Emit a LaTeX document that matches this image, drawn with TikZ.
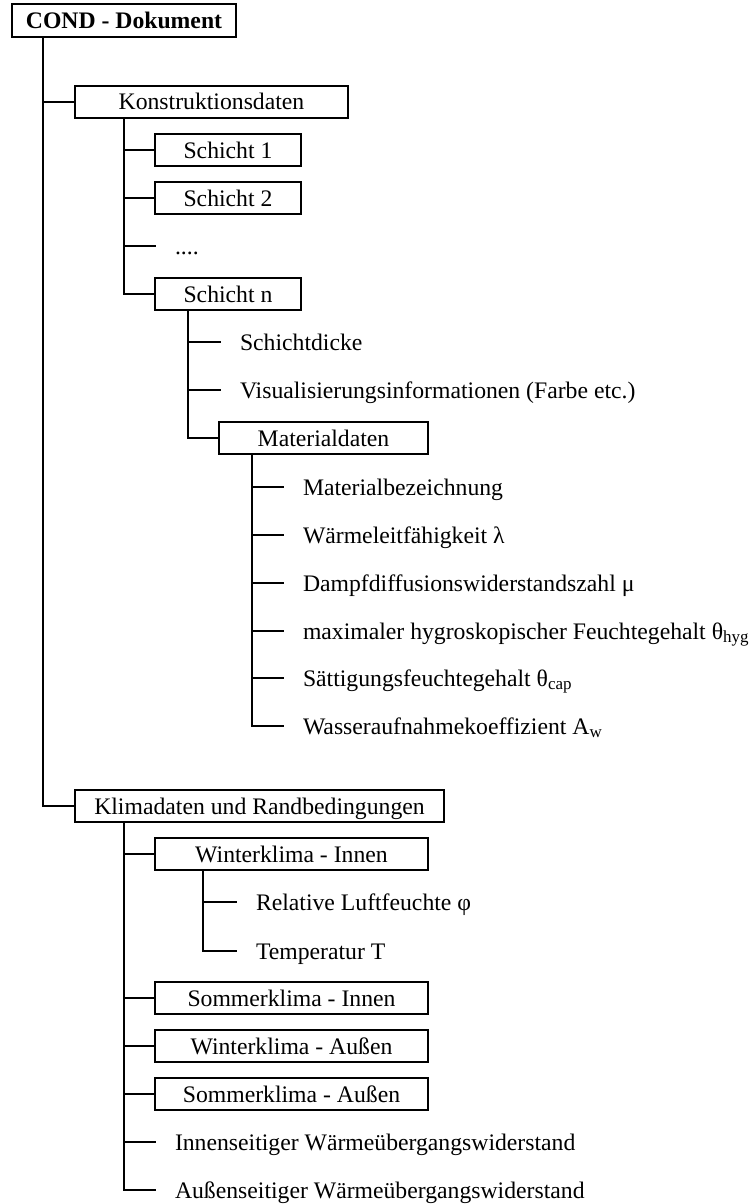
\documentclass[tikz,border=0pt]{standalone}
\usepackage{fontspec}
\setmainfont{Liberation Serif}
\usetikzlibrary{positioning}

\newcommand{\tiefst}[1]{\raisebox{-0.35ex}{\fontsize{8.5pt}{10pt}\selectfont #1}}

\tikzset{
  tree/.style={line width=1pt},
  ebox/.style={draw, line width=1pt, anchor=west, inner sep=0pt, outer sep=0pt,
    minimum height=16pt, text height=0.8em, text depth=0pt},
  leaf/.style={anchor=west, inner xsep=9.5pt, inner ysep=0pt, outer sep=0pt,
    text height=0.8em, text depth=0pt}
}

\begin{document}
\begin{tikzpicture}[x=0.5pt,y=-0.5pt,every node/.style={font=\fontsize{11.85pt}{14pt}\selectfont}]
\useasboundingbox (0,0) rectangle (754,1204);

% Wurzel
\node[ebox,minimum width=112pt,minimum height=16.5pt,font=\fontsize{11.85pt}{14pt}\selectfont\bfseries] (cond) at (12,21) {COND - Dokument};

% Konstruktionsdaten
\node[ebox,minimum width=136.5pt] (konst) at (75,102) {Konstruktionsdaten};
\node[ebox,minimum width=73pt] (s1) at (155,150) {Schicht 1};
\node[ebox,minimum width=73pt] (s2) at (155,198) {Schicht 2};
\node[leaf] (dots) at (156,246) {....};
\node[ebox,minimum width=73pt] (sn) at (155,294) {Schicht n};
\node[leaf] (dicke) at (221,342) {Schichtdicke};
\node[leaf] (visual) at (221,390) {Visualisierungsinformationen (Farbe etc.)};
\node[ebox,minimum width=104.5pt] (mat) at (219,438) {Materialdaten};
\node[leaf] (mbez) at (284,487) {Materialbezeichnung};
\node[leaf] (lambda) at (284,535) {Wärmeleitfähigkeit λ};
\node[leaf] (mu) at (284,583) {Dampfdiffusionswiderstandszahl μ};
\node[leaf] (hyg) at (284,631) {maximaler hygroskopischer Feuchtegehalt θ\tiefst{hyg}};
\node[leaf] (cap) at (284,678) {Sättigungsfeuchtegehalt θ\tiefst{cap}};
\node[leaf] (aw) at (284,726) {Wasseraufnahmekoeffizient A\tiefst{w}};

% Klimadaten
\node[ebox,minimum width=184.5pt] (klima) at (75,806) {Klimadaten und Randbedingungen};
\node[ebox,minimum width=136.5pt] (wi) at (155,854) {Winterklima - Innen};
\node[leaf] (phi) at (237,902) {Relative Luftfeuchte φ};
\node[leaf] (temp) at (237,951) {Temperatur T};
\node[ebox,minimum width=136.5pt] (si) at (155,998) {Sommerklima - Innen};
\node[ebox,minimum width=136.5pt] (wa) at (155,1046) {Winterklima - Außen};
\node[ebox,minimum width=136.5pt] (sa) at (155,1094) {Sommerklima - Außen};
\node[leaf] (rsi) at (156,1142) {Innenseitiger Wärmeübergangswiderstand};
\node[leaf] (rse) at (156,1190) {Außenseitiger Wärmeübergangswiderstand};

% Stämme
\coordinate (tc) at ([xshift=15.5pt]cond.south west);
\coordinate (tk) at ([xshift=24.5pt]konst.south west);
\coordinate (tn) at ([xshift=16.5pt]sn.south west);
\coordinate (tm) at ([xshift=16.5pt]mat.south west);
\coordinate (tr) at ([xshift=24.5pt]klima.south west);
\coordinate (tw) at ([xshift=24pt]wi.south west);

% Verbindungen
\foreach \c in {konst,klima} \draw[tree] (tc) |- (\c.west);
\foreach \c in {s1,s2,dots,sn} \draw[tree] (tk) |- (\c.west);
\foreach \c in {dicke,visual,mat} \draw[tree] (tn) |- (\c.west);
\foreach \c in {mbez,lambda,mu,hyg,cap,aw} \draw[tree] (tm) |- (\c.west);
\foreach \c in {wi,si,wa,sa,rsi,rse} \draw[tree] (tr) |- (\c.west);
\foreach \c in {phi,temp} \draw[tree] (tw) |- (\c.west);
\end{tikzpicture}
\end{document}
